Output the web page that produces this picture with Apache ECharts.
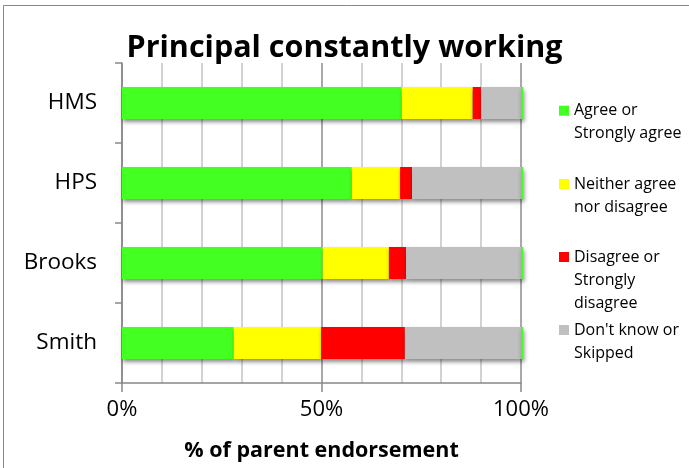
<!DOCTYPE html>
<html>
<head>
    <meta charset="utf-8">
    <title>Principal constantly working</title>
    <script src="https://cdn.jsdelivr.net/npm/echarts@6/dist/echarts.min.js"></script>
    <style>
        html, body { margin: 0; padding: 0; background: #fff; }
        #main { width: 689px; height: 468px; }
    </style>
</head>
<body>
<div id="main"></div>
<script>
// schools, top to bottom
const schools = ['HMS', 'HPS', 'Brooks', 'Smith'];

// % of parent endorsement per answer
const agree    = [70.1, 57.6, 50.3, 28.0];
const neither  = [17.8, 12.1, 16.6, 21.9];
const disagree = [2.1, 3.0, 4.3, 21.0];
const dontKnow = [10.0, 27.3, 28.8, 29.1];
// thin green sliver drawn past the end of every bar
const sliver   = [0.6, 0.6, 0.6, 0.6];

const xTicks = [0, 50, 100];

const names = ['Agree or\nStrongly agree', 'Neither agree\nnor disagree',
               'Disagree or\nStrongly\ndisagree', "Don't know or\nSkipped"];
const colors = ['#44ff22', '#ffff00', '#ff0000', '#c0c0c0'];

const chart = echarts.init(document.getElementById('main'));
const FONT = '"Open Sans", sans-serif';
const LH = 23;

const shadow = {
    shadowColor: 'rgba(0,0,0,0.45)',
    shadowBlur: 4,
    shadowOffsetX: 1,
    shadowOffsetY: 3
};

function barSeries(name, data, color) {
    return {
        name: name,
        type: 'bar',
        stack: 'total',
        barCategoryGap: '60%',
        data: data,
        itemStyle: Object.assign({ color: color }, shadow),
        emphasis: { disabled: true }
    };
}

// one legend per entry; blank lines on top keep the square beside the first line
const iconCenters = [110.7, 184, 257, 330];
const legends = names.map((n, i) => {
    const lines = n.split('\n').length;
    const total = lines * 2 - 1;
    return {
        data: [n],
        orient: 'vertical',
        left: 559,
        top: iconCenters[i] - total * LH / 2,
        padding: 0,
        itemWidth: 10,
        itemHeight: 10,
        itemGap: 0,
        icon: 'rect',
        selectedMode: false,
        formatter: name => ' \n'.repeat(lines - 1) + name,
        textStyle: {
            fontFamily: FONT,
            fontSize: 16,
            lineHeight: LH,
            color: '#000'
        }
    };
});

const option = {
    animation: false,
    title: {
        text: 'Principal constantly working',
        left: 'center',
        top: 33,
        padding: 0,
        textStyle: { fontFamily: FONT, fontSize: 30.5, fontWeight: 'bold', color: '#000' }
    },
    graphic: [{
        type: 'rect',
        shape: { x: 3.5, y: 5.5, width: 720, height: 520 },
        style: { fill: 'none', stroke: '#888', lineWidth: 1 },
        silent: true
    }],
    legend: legends,
    grid: { left: 122, right: 168, top: 63, bottom: 85 },
    xAxis: {
        type: 'value',
        min: 0,
        max: 100,
        interval: 50,
        name: '% of parent endorsement',
        nameLocation: 'middle',
        nameGap: 57,
        nameTextStyle: { fontFamily: FONT, fontSize: 21.5, fontWeight: 'bold', color: '#000' },
        axisLine: { show: true, lineStyle: { color: '#888', width: 1.5 } },
        axisTick: { show: true, length: 9, lineStyle: { color: '#888', width: 1.5 } },
        axisLabel: {
            margin: 16,
            fontFamily: FONT,
            fontSize: 22,
            color: '#000',
            formatter: v => xTicks.includes(v) ? v + '%' : ''
        },
        splitLine: { show: true, lineStyle: { color: '#8c8c8c', width: 1.5 } },
        minorTick: { show: false, splitNumber: 5 },
        minorSplitLine: { show: true, lineStyle: { color: '#c4c4c4', width: 1.5 } }
    },
    yAxis: {
        type: 'category',
        inverse: true,
        data: schools,
        axisLine: { show: true, lineStyle: { color: '#888', width: 1.5 } },
        axisTick: { show: true, length: 7, lineStyle: { color: '#888', width: 1.5 } },
        axisLabel: { margin: 25, fontFamily: FONT, fontSize: 22.5, color: '#000' }
    },
    series: [
        barSeries(names[0], agree, colors[0]),
        barSeries(names[1], neither, colors[1]),
        barSeries(names[2], disagree, colors[2]),
        barSeries(names[3], dontKnow, colors[3]),
        Object.assign(barSeries('sliver', sliver, colors[0]), { clip: false })
    ]
};

chart.setOption(option);
</script>
</body>
</html>
